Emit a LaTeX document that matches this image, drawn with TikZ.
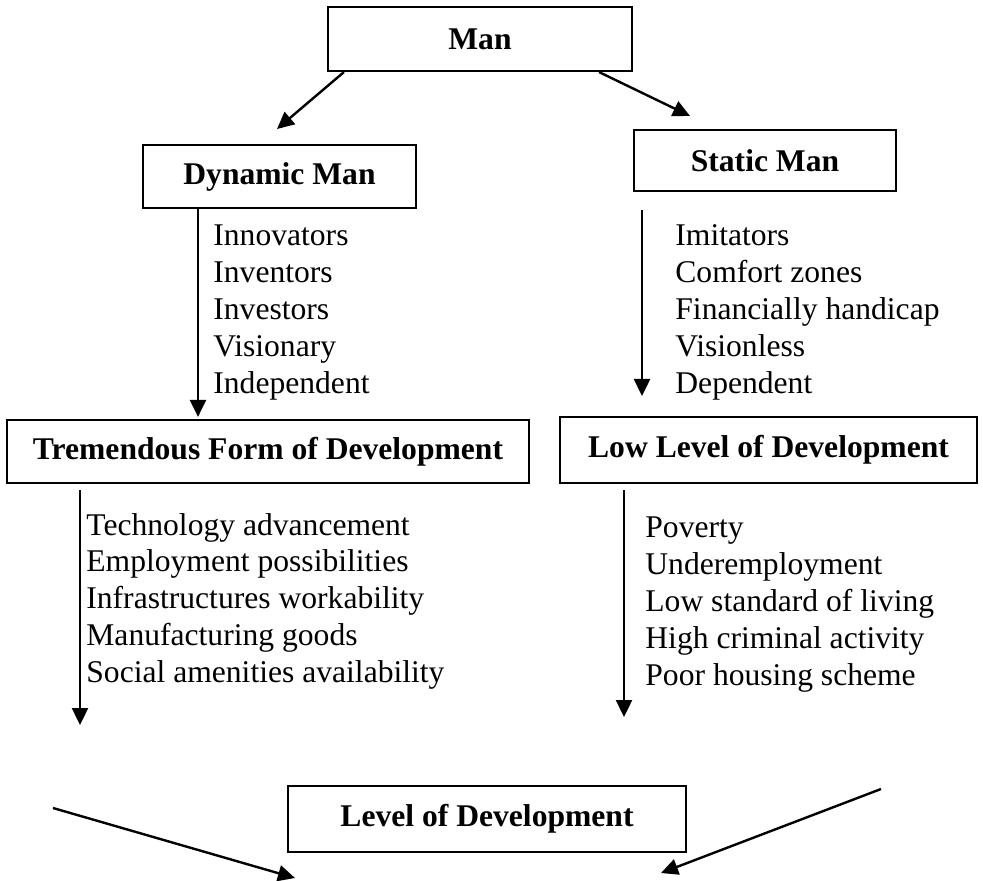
\documentclass[tikz,border=0pt]{standalone}
\usepackage{fontspec}
\setmainfont{Liberation Serif}
\usetikzlibrary{arrows.meta,calc}
\begin{document}
\begin{tikzpicture}[x=0.5pt,y=-0.5pt,
  box/.style={draw,line width=1.1pt,inner sep=0pt,font=\fontsize{15.8}{18.4}\selectfont\bfseries},
  item/.style={anchor=base west,inner sep=0pt,font=\fontsize{15.8}{18.4}\selectfont},
  arr/.style={line width=1.2pt,-{Triangle[length=8.5pt,width=8pt]}}]
\useasboundingbox (0,0) rectangle (983,881);
% boxes
\node[box,minimum width=152pt,minimum height=32pt] (man) at (480,39) {Man};
\node[box,minimum width=136.5pt,minimum height=31.5pt] (dm) at (279.5,176.5) {Dynamic Man};
\node[box,minimum width=131pt,minimum height=30.5pt] (sm) at (765,160.5) {Static Man};
\node[box,minimum width=261pt,minimum height=31.5pt] (tf) at (268,451.5) {Tremendous Form of Development};
\node[box,minimum width=208.5pt,minimum height=33pt] (ll) at (768.5,450) {Low Level of Development};
\node[box,minimum width=199pt,minimum height=33pt] (lod) at (487,819) {Level of Development};
% lists
\foreach \t [count=\i] in {Innovators,Inventors,Investors,Visionary,Independent}
  \node[item] (dyn\i) at (213,{246+36.8*(\i-1)}) {\t};
\foreach \t [count=\i] in {Imitators,Comfort zones,Financially handicap,Visionless,Dependent}
  \node[item] (sta\i) at (675,{246+36.8*(\i-1)}) {\t};
\foreach \t [count=\i] in {Technology advancement,Employment possibilities,Infrastructures workability,Manufacturing goods,Social amenities availability}
  \node[item] (tre\i) at (86,{535+36.8*(\i-1)}) {\t};
\foreach \t [count=\i] in {Poverty,Underemployment,Low standard of living,High criminal activity,Poor housing scheme}
  \node[item] (low\i) at (645,{537+37*(\i-1)}) {\t};
% free ends
\coordinate (a1e) at (277,129);
\coordinate (a2e) at (690,116);
\coordinate (v1) at (198,0);
\coordinate (rs) at (642,210);
\coordinate (re) at (642,396);
\coordinate (ls) at (80,490);
\coordinate (le) at (80,725);
\coordinate (ms) at (624,490);
\coordinate (me) at (624,717);
\coordinate (bls) at (53,808);
\coordinate (ble) at (295,878);
\coordinate (brs) at (881,789);
\coordinate (bre) at (661,873);
% connectors
\draw[arr] ($(man.south west)+(17,0)$) -- (a1e);
\draw[arr] ($(man.south east)+(-34,0)$) -- (a2e);
\draw[arr] (dm.south -| v1) -- ($(tf.north -| v1)+(0,-2)$);
\draw[arr] (rs) -- (re);
\draw[arr] (ls) -- (le);
\draw[arr] (ms) -- (me);
\draw[arr] (bls) -- (ble);
\draw[arr] (brs) -- (bre);
\end{tikzpicture}
\end{document}
